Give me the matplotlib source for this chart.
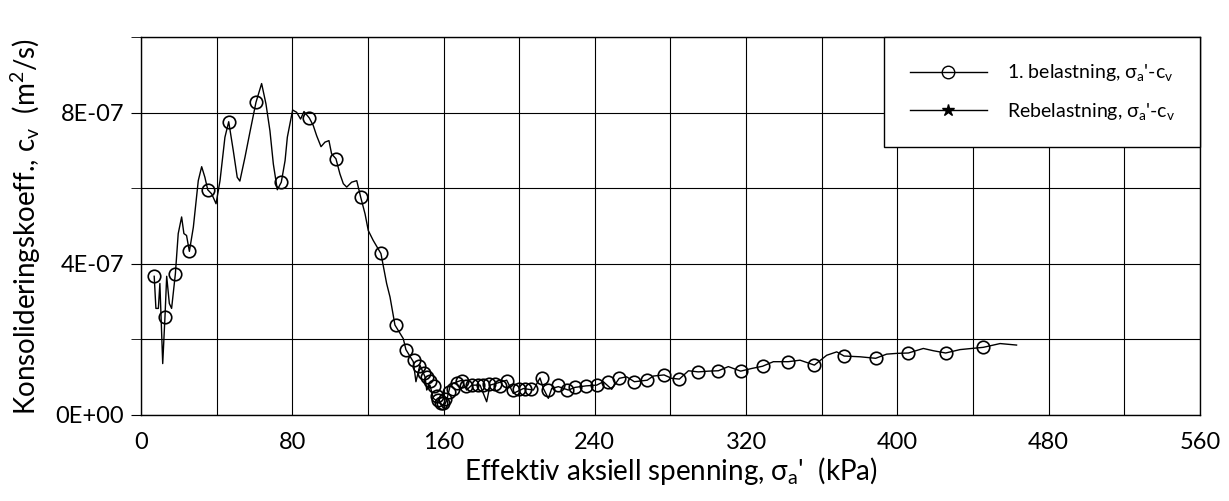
import numpy as np
import matplotlib.pyplot as plt
from matplotlib.lines import Line2D

plt.rcParams['font.family'] = ['Lato', 'DejaVu Sans']
plt.rcParams['mathtext.fontset'] = 'custom'
plt.rcParams['mathtext.rm'] = 'Lato'
plt.rcParams['mathtext.it'] = 'Lato'

# 1. belastning - continuous curve (kPa, m2/s)
line_x = [7.0, 7.9, 9.2, 10.0, 11.5, 12.7, 13.6, 15.0, 16.2, 18.2, 19.7, 21.5, 22.7, 24.1,
          25.6, 27.7, 30.3, 32.1, 33.8, 35.3, 37.4, 39.7, 41.8, 44.4, 46.4, 48.8, 50.9,
          52.3, 55.0, 57.6, 60.8, 63.8, 66.1, 68.2, 70.0, 72.1, 74.2, 76.2, 77.4, 80.2,
          82.3, 84.4, 86.2, 89.0, 91.1, 92.9, 95.2, 97.3, 99.4, 100.8, 103.1, 105.2,
          107.0, 108.8, 111.4, 114.1, 116.2, 118.5, 120.2, 122.8, 126.9, 129.9, 131.7,
          134.3, 138.7, 140.1, 144.0, 145.4, 147.5, 150.2, 151.1, 152.8, 154.6, 158.1,
          159.9, 161.7, 163.4, 165.1, 169.6, 172.2, 174.9, 179.3, 182.8, 184.6, 188.1,
          193.4, 196.9, 202.2, 207.5, 211.0, 212.8, 215.4, 217.2, 220.7, 226.0, 229.5,
          235.3, 241.0, 244.5, 248.9, 252.9, 256.8, 260.9, 267.7, 270.9, 276.6, 280.6,
          284.7, 289.5, 294.7, 300.0, 305.3, 310.6, 317.1, 322.9, 328.7, 334.4, 342.3,
          348.5, 356.1, 362.6, 367.9, 371.8, 380.2, 388.5, 394.3, 399.6, 405.8, 413.7,
          419.0, 425.5, 433.1, 439.3, 445.4, 454.3, 463.0]
line_y = [3.67, 2.82, 2.82, 3.48, 1.36, 2.60, 3.67, 2.95, 2.82, 3.74, 4.80, 5.24, 4.80, 4.75,
          4.33, 4.97, 6.20, 6.57, 6.29, 5.96, 5.85, 5.59, 6.20, 7.35, 7.76, 7.00, 6.29,
          6.19, 6.82, 7.48, 8.27, 8.77, 8.23, 7.52, 6.64, 5.96, 6.16, 6.73, 7.35, 8.07,
          8.01, 7.83, 8.03, 7.86, 7.66, 7.39, 7.10, 7.22, 7.26, 6.91, 6.78, 6.38,
          6.12, 6.03, 6.16, 6.20, 5.76, 5.32, 4.88, 4.62, 4.27, 3.48, 3.12,
          2.38, 2.02, 1.73, 1.41, 0.88, 1.32, 1.01, 0.66, 0.79, 0.44, 0.31,
          0.18, 0.40, 0.75, 0.84, 0.92, 0.66, 0.79, 0.79, 0.35, 0.79, 0.84,
          0.92, 0.57, 0.70, 0.66, 0.98, 0.70, 0.44, 0.70, 0.75, 0.66, 0.73,
          0.77, 0.79, 0.88, 0.68, 0.97, 1.01, 0.88, 0.92, 1.03, 1.06, 0.97,
          0.95, 1.17, 1.14, 1.16, 1.17, 1.28, 1.16, 1.23, 1.29, 1.41, 1.41,
          1.45, 1.32, 1.58, 1.67, 1.56, 1.54, 1.50, 1.61, 1.63, 1.64, 1.76,
          1.70, 1.64, 1.73, 1.76, 1.79, 1.89, 1.85]

# 1. belastning - measured points (markers)
mark_x = [7.0, 12.7, 18.2, 25.6, 35.3, 46.4, 60.8, 74.2, 89.0, 103.1, 116.3, 126.9, 134.7,
          140.1, 144.5, 147.2, 149.5, 151.1, 153.0, 155.0, 156.5, 157.2, 158.5, 159.9,
          161.0, 163.0, 165.0, 167.0, 169.6, 172.0, 175.0, 178.0, 181.0, 184.0, 187.0,
          190.0, 193.4, 196.9, 200.0, 203.0, 206.0, 211.8, 215.4, 220.6, 225.4, 229.5,
          235.3, 241.0, 247.1, 252.9, 260.9, 267.7, 276.6, 284.7, 294.7, 305.3, 317.1,
          328.7, 342.3, 356.1, 371.8, 388.5, 405.8, 425.5, 445.4]
mark_y = [3.67, 2.60, 3.74, 4.33, 5.96, 7.76, 8.27, 6.16, 7.86, 6.78, 5.78, 4.28, 2.37,
          1.73, 1.45, 1.30, 1.12, 1.01, 0.90, 0.77, 0.50, 0.40, 0.32, 0.31,
          0.42, 0.60, 0.70, 0.84, 0.91, 0.76, 0.79, 0.80, 0.79, 0.82, 0.83,
          0.78, 0.91, 0.65, 0.70, 0.68, 0.70, 0.98, 0.65, 0.79, 0.65, 0.73,
          0.77, 0.79, 0.88, 0.97, 0.88, 0.92, 1.06, 0.95, 1.14, 1.17, 1.16,
          1.29, 1.41, 1.32, 1.56, 1.50, 1.64, 1.64, 1.79]

# Rebelastning - no data points in this test
rebel_x = []
rebel_y = []

line_y = np.array(line_y) * 1e-7
mark_y = np.array(mark_y) * 1e-7

fig = plt.figure(figsize=(12.29, 5.01), dpi=100)
ax = fig.add_axes([0.1147, 0.1717, 0.8617, 0.7543])

ax.plot(line_x, line_y, color='black', lw=1.0)
ax.plot(mark_x, mark_y, ls='none', marker='o', ms=9, mfc='none', mec='black', mew=1.2)
ax.plot(rebel_x, rebel_y, color='black', lw=1.0, marker='*')

ax.set_xlim(0, 560)
ax.set_ylim(0, 1e-6)
ax.set_xticks(np.arange(0, 561, 80))
ax.set_xticks(np.arange(0, 561, 40), minor=True)
ax.set_yticks([0, 4e-7, 8e-7])
ax.set_yticks(np.arange(0, 1.01e-6, 2e-7), minor=True)
ax.set_yticklabels(['0E+00', '4E-07', '8E-07'])
ax.grid(True, which='both', color='black', lw=0.8)
ax.tick_params(axis='x', which='both', length=0, labelsize=17, pad=12)
ax.tick_params(axis='y', which='both', length=7, direction='out', labelsize=17, pad=5)
for s in ax.spines.values():
    s.set_linewidth(1.0)

ax.set_xlabel("Effektiv aksiell spenning, $\\sigma_{\\rm a}$'  (kPa)", fontsize=20, labelpad=2)
ax.set_ylabel("Konsolideringskoeff., c$_{\\rm v}$  (m$^{2}$/s)", fontsize=20, labelpad=9)

handles = [Line2D([], [], color='black', lw=1.0, marker='o', ms=9, mfc='none', mec='black'),
           Line2D([], [], color='black', lw=1.0, marker='*', ms=9)]
labels = ["1. belastning, $\\sigma_{\\rm a}$'-c$_{\\rm v}$",
          "Rebelastning, $\\sigma_{\\rm a}$'-c$_{\\rm v}$"]
leg = ax.legend(handles, labels, loc='upper right', bbox_to_anchor=(1.0, 1.0),
                fontsize=14, handlelength=4.0, handletextpad=1.0, borderpad=1.3,
                labelspacing=0.9, borderaxespad=0, fancybox=False, framealpha=1,
                edgecolor='black')
leg.get_frame().set_linewidth(1.0)

fig.savefig('out.png', dpi=100)
